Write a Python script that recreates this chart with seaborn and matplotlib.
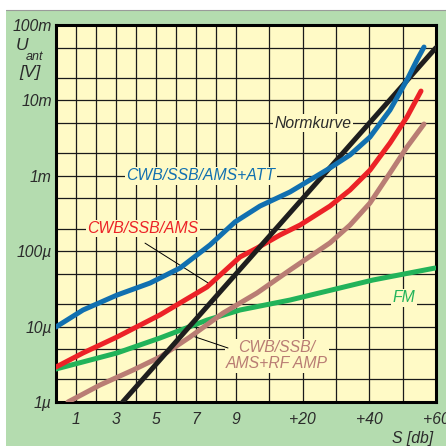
import matplotlib
matplotlib.use("Agg")
import matplotlib.pyplot as plt
from matplotlib.patches import Rectangle
from matplotlib.ticker import LogLocator, NullFormatter
import seaborn as sns

# x: dB above S0 (1 S-unit = 6 dB, S9 = 54 dB), y: antenna voltage in volts
norm_db = [20, 54, 114]
norm_v = [1e-6, 50e-6, 50e-3]

att_db = [0, 8.1, 18.3, 28.2, 37.2, 46.2, 53.7, 61.2, 70.2, 82.2, 88.2, 94.2, 100.2,
          105.3, 108.3, 110.4]
att_v = [9.9e-6, 16.6e-6, 26.2e-6, 37.8e-6, 59.8e-6, 121e-6, 244e-6, 397e-6, 610e-6,
         1.27e-3, 1.89e-3, 3.27e-3, 7.46e-3, 18.7e-3, 34.4e-3, 51e-3]

ams_db = [0, 8.1, 18.3, 31.2, 45.3, 55.2, 60.3, 67.2, 73.2, 82.2, 88.2, 94.2, 100.2,
          105.3, 109.5]
ams_v = [2.91e-6, 4.47e-6, 7.28e-6, 14.3e-6, 33.5e-6, 83.8e-6, 110e-6, 164e-6, 222e-6,
         397e-6, 648e-6, 1.19e-3, 2.72e-3, 6.03e-3, 13.3e-3]

rf_db = [3.6, 13.2, 23.1, 31.2, 40.2, 50.1, 60.3, 70.2, 82.2, 88.2, 94.2, 100.2, 105.3, 110.4]
rf_v = [1.0e-6, 1.68e-6, 2.65e-6, 3.95e-6, 7.28e-6, 15.1e-6, 27.9e-6, 56.3e-6, 129e-6,
        222e-6, 436e-6, 1.09e-3, 2.41e-3, 4.86e-3]

fm_db = [0, 8.1, 18.3, 31.2, 45.3, 55.2, 70.2, 95.1, 113.7]
fm_v = [2.74e-6, 3.40e-6, 4.47e-6, 7.06e-6, 12.2e-6, 16.6e-6, 22.5e-6, 41.5e-6, 59.8e-6]

x_ticks = [6, 18, 30, 42, 54, 74, 94, 114]
x_labels = ["1", "3", "5", "7", "9", "+20", "+40", "+60"]
x_minor = [12, 24, 36, 48, 64, 84, 104]
y_ticks = [1e-6, 1e-5, 1e-4, 1e-3, 1e-2, 1e-1]
y_labels = ["1µ", "10µ", "100µ", "1m", "10m", "100m"]

plot_bg = "#fffac6"
panel_bg = "#b4dcaf"
text_col = "#2b2b2b"
c_black = "#1e1e1e"
c_blue = "#1170b0"
c_red = "#ec2227"
c_brown = "#b97d74"
c_green = "#22b35a"

sns.set_style("white")
plt.rcParams["font.family"] = ["Liberation Sans", "DejaVu Sans"]
plt.rcParams["font.style"] = "italic"
plt.rcParams["font.size"] = 11.3

W = 446
fig = plt.figure(figsize=(4.46, 4.46), dpi=100, facecolor="white")
fig.patches.append(Rectangle((6 / W, 0), 1, 1 - 10 / W, transform=fig.transFigure,
                             facecolor=panel_bg, edgecolor="none", zorder=-5))
fig.lines.append(plt.Line2D([6 / W, 1], [1 - 10 / W, 1 - 10 / W], transform=fig.transFigure,
                            color="#9a9a9a", lw=0.8))

ax = fig.add_axes([56 / W, 44 / W, 380 / W, 377 / W])
ax.set_facecolor(plot_bg)

lw = 3.6
for xs, ys, col in [(fm_db, fm_v, c_green), (rf_db, rf_v, c_brown), (ams_db, ams_v, c_red),
                    (norm_db, norm_v, c_black), (att_db, att_v, c_blue)]:
    sns.lineplot(x=xs, y=ys, ax=ax, color=col, lw=lw, solid_capstyle="round",
                 solid_joinstyle="round", zorder=4)

ax.set_yscale("log")
ax.set_xlim(0, 114)
ax.set_ylim(1e-6, 1e-1)
ax.set_xticks(x_ticks, x_labels)
ax.set_xticks(x_minor, minor=True)
ax.set_yticks(y_ticks, y_labels)
ax.yaxis.set_minor_locator(LogLocator(base=10, subs=(2, 5)))
ax.yaxis.set_minor_formatter(NullFormatter())
ax.tick_params(which="both", length=0, colors=text_col, labelsize=11.3)
ax.tick_params(axis="x", pad=7)
ax.tick_params(axis="y", pad=3)
ax.set_axisbelow(True)
ax.grid(which="both", color="#1a1a1a", lw=0.9)
for sp in ax.spines.values():
    sp.set_color("black")
    sp.set_linewidth(2.2)
ax.set_xlabel("")
ax.set_ylabel("")

box = dict(facecolor=plot_bg, edgecolor="none", pad=1)
ax.text(77, 5e-3, "Normkurve", color=text_col, ha="center", va="center", bbox=box, zorder=3)
ax.text(43.4, 1e-3, "CWB/SSB/AMS+ATT", color=c_blue, ha="center", va="center", bbox=box, zorder=3)
ax.text(26.1, 2e-4, "CWB/SSB/AMS", color=c_red, ha="center", va="center", bbox=box, zorder=3)
ax.text(66.3, 4.1e-6, "CWB/SSB/\nAMS+RF AMP", color=c_brown, ha="center", va="center",
        linespacing=1.1, bbox=box, zorder=3)
ax.text(104.4, 2.4e-5, "FM", color=c_green, ha="center", va="center", bbox=box, zorder=3)

# leader lines
ax.annotate("", xy=(45.6, 3.8e-5), xytext=(26.7, 1.28e-4),
            arrowprops=dict(arrowstyle="-", color="black", lw=0.7, shrinkA=0, shrinkB=0))
ax.annotate("", xy=(40.2, 7.7e-6), xytext=(51.6, 5.2e-6),
            arrowprops=dict(arrowstyle="-", color="black", lw=0.7, shrinkA=0, shrinkB=0))

fig.text(22 / W, 1 - 46 / W, "U", color=text_col, fontsize=12.5, ha="center", va="center")
fig.text(34 / W, 1 - 57 / W, "ant", color=text_col, fontsize=9, ha="center", va="center")
fig.text(30 / W, 1 - 72 / W, "[V]", color=text_col, fontsize=12.5, ha="center", va="center")
fig.text(433 / W, 1 - 439 / W, "S [db]", color=text_col, fontsize=11.3, ha="right", va="center")

fig.savefig("out.png", dpi=100)
